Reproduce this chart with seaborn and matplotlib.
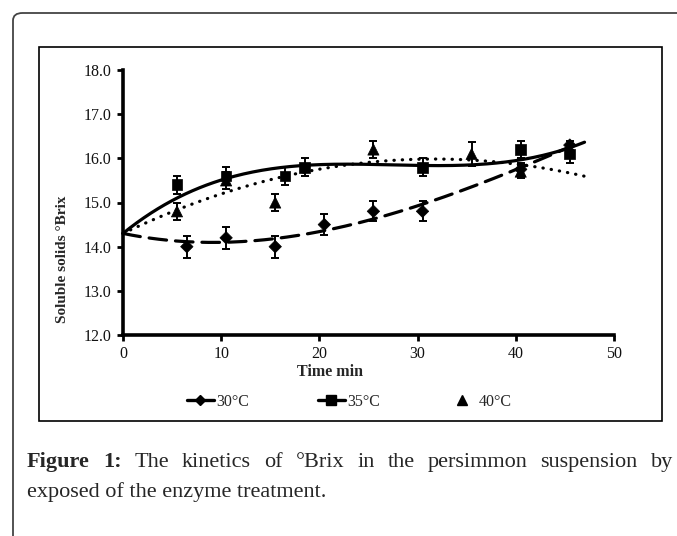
import numpy as np
import pandas as pd
import matplotlib
matplotlib.use("Agg")
import matplotlib.pyplot as plt
import seaborn as sns
from matplotlib.lines import Line2D
from matplotlib.patches import FancyBboxPatch, Rectangle

# ---------------- data ----------------
initial_time = 0.0
initial_brix = 14.3

time_30 = [6.5, 10.5, 15.5, 20.5, 25.5, 30.5, 40.5, 45.5]
brix_30 = [14.0, 14.2, 14.0, 14.5, 14.8, 14.8, 15.75, 16.3]
err_30 = [0.25, 0.25, 0.25, 0.23, 0.23, 0.23, 0.15, 0.1]

time_35 = [5.5, 10.5, 16.5, 18.5, 30.5, 40.5, 45.5]
brix_35 = [15.4, 15.6, 15.6, 15.8, 15.8, 16.2, 16.1]
err_35 = [0.2, 0.2, 0.2, 0.2, 0.2, 0.2, 0.2]

time_40 = [5.5, 10.5, 15.5, 25.5, 35.5, 40.5]
brix_40 = [14.8, 15.5, 15.0, 16.2, 16.1, 15.7]
err_40 = [0.2, 0.2, 0.2, 0.2, 0.28, 0.15]

series_labels = ["30\u00b0C", "35\u00b0C", "40\u00b0C"]
trend_order = [3, 3, 2]
trend_end = [45.5, 47.0, 47.0]
x_ticks = [0, 10, 20, 30, 40, 50]
y_ticks = [12.0, 13.0, 14.0, 15.0, 16.0, 17.0, 18.0]

x_label = "Time min"
y_label = "Soluble solids \u00b0Brix"
caption_line1 = ["Figure", "1:", "The", "kinetics", "of", "\u00b0Brix", "in", "the",
                 "persimmon", "suspension", "by"]
caption_line2 = "exposed of the enzyme treatment."

# ---------------- figure ----------------
W, H = 677, 536
sns.set_theme(style="white")
plt.rcParams["font.family"] = ["Liberation Serif", "DejaVu Serif"]
fig = plt.figure(figsize=(W / 100, H / 100), dpi=100)


def fx(px):
    return px / W


def fy(py):
    return 1 - py / H


# outer rounded frame (extends past right/bottom edges)
outer = FancyBboxPatch((fx(13), fy(560)), fx(700) - fx(13), fy(13) - fy(560),
                       boxstyle="round,pad=0,rounding_size=0.014",
                       transform=fig.transFigure, fill=False,
                       edgecolor="#444444", linewidth=1.3, clip_on=False)
fig.patches.append(outer)
# inner chart box
inner = Rectangle((fx(39), fy(421)), fx(662) - fx(39), fy(47) - fy(421),
                  transform=fig.transFigure, fill=False, edgecolor="black",
                  linewidth=1.2)
fig.patches.append(inner)

ax = fig.add_axes([fx(123), fy(335), fx(614) - fx(123), fy(70) - fy(335)])
ax.set_facecolor("none")

line_styles = [(0, (5.5, 2.8)), "-", (0, (0.1, 2.5))]
all_t = [time_30, time_35, time_40]
all_b = [brix_30, brix_35, brix_40]
all_e = [err_30, err_35, err_40]

rows = []
for lab, t, b in zip(series_labels, all_t, all_b):
    for ti, bi in zip(t, b):
        rows.append({"time": ti, "brix": bi, "series": lab})
df = pd.DataFrame(rows)

# polynomial trend lines with the intercept fixed at the initial value
for i, (t, b) in enumerate(zip(all_t, all_b)):
    tt = np.array(t)
    bb = np.array(b) - initial_brix
    A = np.column_stack([tt ** k for k in range(1, trend_order[i] + 1)])
    coef, *_ = np.linalg.lstsq(A, bb, rcond=None)
    xs = np.linspace(initial_time, trend_end[i], 200)
    ys = initial_brix + sum(c * xs ** (k + 1) for k, c in enumerate(coef))
    sns.lineplot(x=xs, y=ys, ax=ax, color="black", linewidth=2.3,
                 linestyle=line_styles[i], dash_capstyle="round",
                 solid_capstyle="round", legend=False, clip_on=False)

# error bars
for t, b, e in zip(all_t, all_b, all_e):
    ax.errorbar(t, b, yerr=e, fmt="none", ecolor="black", elinewidth=1.4,
                capsize=3, capthick=1.4, zorder=3)

sns.scatterplot(data=df, x="time", y="brix", style="series",
                markers={series_labels[0]: "D", series_labels[1]: "s",
                         series_labels[2]: "^"},
                size="series", sizes={series_labels[0]: 40,
                                      series_labels[1]: 60,
                                      series_labels[2]: 65},
                color="black", edgecolor="black", linewidth=0.5,
                ax=ax, legend=False, zorder=4)

ax.set_xlim(0, 50)
ax.set_ylim(12, 18)
ax.set_xticks(x_ticks)
ax.set_yticks(y_ticks)
ax.set_yticklabels([f"{v:.1f}" for v in y_ticks])
ax.set_xticklabels([str(v) for v in x_ticks])
ax.set_xlabel("")
ax.set_ylabel("")
for s in ["top", "right"]:
    ax.spines[s].set_visible(False)
for s in ["left", "bottom"]:
    ax.spines[s].set_linewidth(2.6)
    ax.spines[s].set_color("black")
    ax.spines[s].set_capstyle("projecting")
ax.tick_params(axis="both", which="major", direction="out", length=4,
               width=2, color="black", labelsize=11.5, labelcolor="#111111",
               pad=4, left=True, bottom=True)

fig.text(fx(63), fy(259), y_label, rotation=90, ha="center", va="center",
         fontsize=11, fontweight="bold")
fig.text(fx(330), fy(372), x_label, ha="center", va="center",
         fontsize=11.5, fontweight="bold")

# legend
handles = [
    Line2D([], [], color="black", lw=2.4, marker="D", ms=5),
    Line2D([], [], color="black", lw=2.4, marker="s", ms=7),
    Line2D([], [], color="none", marker="^", ms=7, markerfacecolor="black",
           markeredgecolor="black"),
]
fig.legend(handles, series_labels, loc="center",
           bbox_to_anchor=(fx(349), fy(402)), ncol=3, frameon=False,
           fontsize=11.5, handlelength=1.7, handletextpad=0.15,
           columnspacing=4.3)

# caption, first line justified
fig.canvas.draw()
renderer = fig.canvas.get_renderer()
cap_size = 16
texts = []
for k, w in enumerate(caption_line1):
    txt = fig.text(0, fy(467), w, fontsize=cap_size,
                   fontweight="bold" if k < 2 else "normal", va="baseline")
    texts.append(txt)
widths = [t.get_window_extent(renderer).width for t in texts]
x0, x1 = 27, 673
gap = (x1 - x0 - sum(widths)) / (len(widths) - 1)
xpos = x0
for t, wdt in zip(texts, widths):
    t.set_x(fx(xpos))
    xpos += wdt + gap
fig.text(fx(27), fy(497), caption_line2, fontsize=cap_size, va="baseline")

fig.savefig("out.png", dpi=100)
